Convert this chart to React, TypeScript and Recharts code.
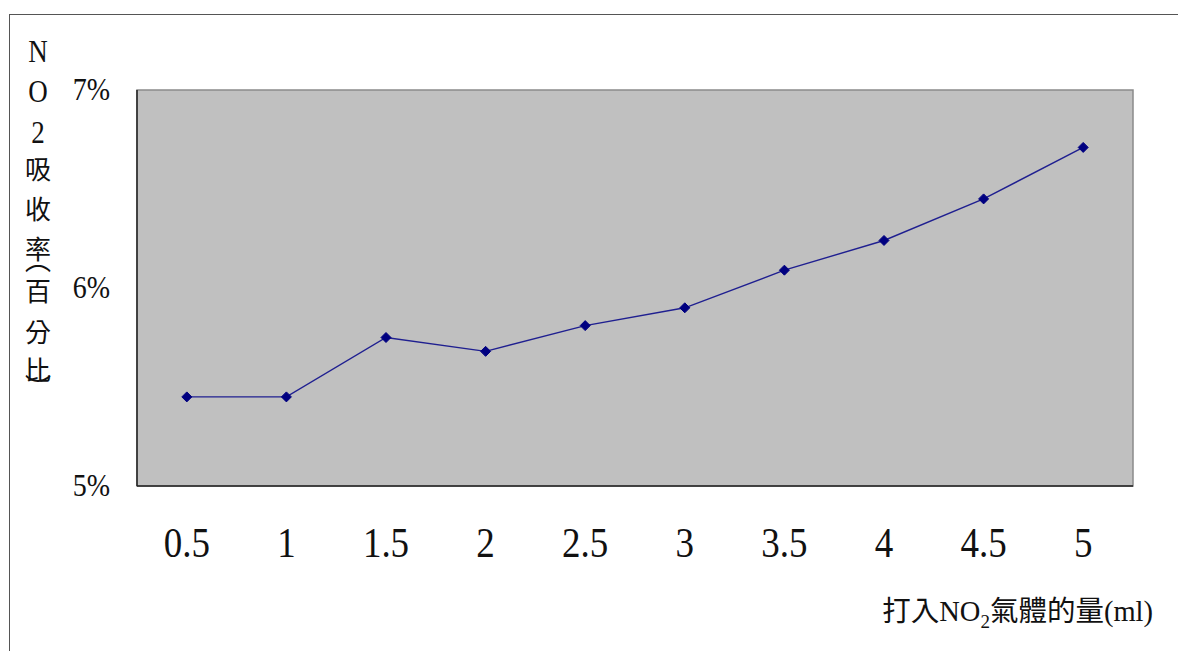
import { LineChart, Line, XAxis, YAxis, ReferenceArea } from 'recharts';

// NO2 amount injected (ml) and absorption rate (%)
const doses = [0.5, 1, 1.5, 2, 2.5, 3, 3.5, 4, 4.5, 5];
const absorption = [5.45, 5.45, 5.75, 5.68, 5.81, 5.9, 6.09, 6.24, 6.45, 6.71];
const yTicks = [5, 6, 7];
const doseBounds = [0.75, 1.25, 1.75, 2.25, 2.75, 3.25, 3.75, 4.25, 4.75];
const xDomain = [0.25, 5.25];

const data = doses.map((d, i) => ({ dose: d, rate: absorption[i] }));

const SERIF = "'Liberation Serif', 'Times New Roman', 'Noto Sans CJK TC', serif";
const STRETCH = 1.16;

// Vertical axis title, one glyph per row
const yTitle: [string, number][] = [
  ['N', 62], ['O', 102], ['2', 143], ['吸', 179], ['收', 219], ['率', 259],
  ['︵', 270], ['百', 301], ['分', 342], ['比', 380], ['︶', 397],
];

const XLabelTick = (props: any) => {
  const { x, y, payload } = props;
  return (
    <text
      transform={`translate(${x},${y + 71}) scale(1,${STRETCH})`}
      textAnchor="middle"
      fontFamily={SERIF}
      fontSize={37}
      fill="#111"
    >
      {payload.value}
    </text>
  );
};

const YLabelTick = (props: any) => {
  const { x, y, payload } = props;
  return (
    <text
      transform={`translate(${x - 27},${y + 10}) scale(1,${STRETCH})`}
      textAnchor="end"
      fontFamily={SERIF}
      fontSize={28}
      fill="#111"
    >
      {`${payload.value}%`}
    </text>
  );
};

const Diamond = (props: any) => {
  const { cx, cy } = props;
  if (cx == null || cy == null) return null;
  const r = 5;
  return (
    <polygon
      points={`${cx},${cy - r} ${cx + r},${cy} ${cx},${cy + r} ${cx - r},${cy}`}
      fill="#000080"
      stroke="#000080"
    />
  );
};

const isLatin = (ch: string) => /[A-Z0-9]/.test(ch);

const YTitle = () => (
  <g>
    {yTitle.map(([ch, y], i) => (
      <text
        key={i}
        transform={`translate(38,${y}) scale(1,${isLatin(ch) ? STRETCH : 1})`}
        textAnchor="middle"
        fontFamily={isLatin(ch) ? SERIF : "'Noto Sans CJK TC', sans-serif"}
        fontSize={isLatin(ch) ? 27 : 26}
        fill="#111"
      >
        {ch}
      </text>
    ))}
  </g>
);

const App = () => {
  return (
    <div style={{ position: 'absolute', left: 0, top: 0, width: 1178, height: 651, background: '#fff' }}>
      <div
        style={{
          position: 'absolute',
          left: 9,
          top: 14,
          right: 0,
          bottom: 0,
          borderLeft: '1.5px solid #555',
          borderTop: '1.5px solid #555',
        }}
      />
      <LineChart
        width={1178}
        height={651}
        data={data}
        margin={{ top: 90, right: 45, bottom: 135, left: 77 }}
        style={{ position: 'absolute', left: 0, top: 0 }}
      >
        <ReferenceArea
          xAxisId="lbl"
          yAxisId="val"
          x1={xDomain[0]}
          x2={xDomain[1]}
          y1={5}
          y2={7}
          fill="#C0C0C0"
          fillOpacity={1}
          stroke="#8a8a8a"
          strokeWidth={1.5}
          ifOverflow="visible"
        />
        <XAxis
          xAxisId="lbl"
          dataKey="dose"
          type="number"
          domain={xDomain}
          ticks={doses}
          height={30}
          tickSize={0}
          tickMargin={0}
          tickLine={false}
          axisLine={false}
          tick={<XLabelTick />}
          interval={0}
          allowDataOverflow
        />
        <XAxis
          xAxisId="bounds"
          dataKey="dose"
          type="number"
          domain={xDomain}
          ticks={doseBounds}
          mirror
          tickSize={10}
          tick={false}
          tickLine={{ stroke: '#222', strokeWidth: 1.5 }}
          axisLine={{ stroke: '#222', strokeWidth: 1.5 }}
          interval={0}
          allowDataOverflow
        />
        <YAxis
          yAxisId="val"
          type="number"
          domain={[5, 7]}
          ticks={yTicks}
          width={60}
          tickSize={0}
          tickMargin={0}
          tickLine={false}
          axisLine={false}
          tick={<YLabelTick />}
          interval={0}
          allowDataOverflow
          label={<YTitle />}
        />
        <YAxis
          yAxisId="frame"
          type="number"
          domain={[5, 7]}
          ticks={yTicks}
          mirror
          tickSize={8}
          tick={false}
          tickLine={{ stroke: '#222', strokeWidth: 1.5 }}
          axisLine={{ stroke: '#222', strokeWidth: 1.5 }}
          interval={0}
          allowDataOverflow
        />
        <Line
          xAxisId="lbl"
          yAxisId="val"
          type="linear"
          dataKey="rate"
          stroke="#1f1f90"
          strokeWidth={1.4}
          dot={<Diamond />}
          activeDot={false}
          isAnimationActive={false}
        />
      </LineChart>
      <svg
        width={1178}
        height={651}
        style={{ position: 'absolute', left: 0, top: 0, pointerEvents: 'none' }}
      >
        <text
          x={1153}
          y={621}
          textAnchor="end"
          fontFamily={SERIF}
          fontSize={28.5}
          fill="#111"
        >
          打入NO
          <tspan fontSize={19} dy={7}>2</tspan>
          <tspan dy={-7}>氣體的量(ml)</tspan>
        </text>
      </svg>
    </div>
  );
};

export default App;
